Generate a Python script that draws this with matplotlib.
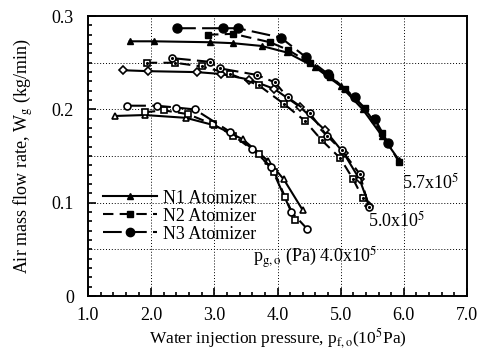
import matplotlib.pyplot as plt
import numpy as np
from matplotlib.lines import Line2D
from matplotlib.ticker import MultipleLocator

plt.rcParams['font.family'] = ['Liberation Serif', 'DejaVu Serif']
plt.rcParams['mathtext.fontset'] = 'stix'

# air pressure 4.0x10^5 Pa
x40_n1 = [1.43, 1.90, 2.55, 3.00, 3.45, 3.85, 4.10, 4.40]
y40_n1 = [0.193, 0.194, 0.191, 0.183, 0.168, 0.145, 0.125, 0.092]
x40_n2 = [1.90, 2.20, 2.58, 2.98, 3.30, 3.70, 3.95, 4.12, 4.28]
y40_n2 = [0.197, 0.199, 0.195, 0.184, 0.172, 0.152, 0.133, 0.106, 0.082]
x40_n3 = [1.62, 2.09, 2.40, 2.69, 3.25, 3.60, 3.90, 4.22, 4.47]
y40_n3 = [0.204, 0.204, 0.202, 0.200, 0.176, 0.158, 0.138, 0.090, 0.072]

# air pressure 5.0x10^5 Pa
x50_n1 = [1.55, 1.95, 2.72, 3.10, 3.55, 3.95, 4.35, 4.75, 5.05, 5.30, 5.45]
y50_n1 = [0.242, 0.241, 0.240, 0.238, 0.232, 0.222, 0.203, 0.178, 0.153, 0.125, 0.097]
x50_n2 = [1.93, 2.38, 2.80, 3.25, 3.70, 4.10, 4.43, 4.70, 4.99, 5.20, 5.35]
y50_n2 = [0.250, 0.250, 0.246, 0.238, 0.226, 0.206, 0.188, 0.167, 0.148, 0.125, 0.105]
x50_n3 = [2.33, 2.93, 3.09, 3.67, 3.96, 4.16, 4.51, 4.78, 5.02, 5.30, 5.45]
y50_n3 = [0.255, 0.251, 0.244, 0.237, 0.229, 0.213, 0.196, 0.172, 0.156, 0.131, 0.095]

# air pressure 5.7x10^5 Pa
x57_n1 = [1.66, 2.04, 2.93, 3.29, 3.75, 4.15, 4.60, 5.00, 5.35, 5.65, 5.92]
y57_n1 = [0.273, 0.273, 0.272, 0.271, 0.268, 0.261, 0.245, 0.225, 0.200, 0.172, 0.146]
x57_n2 = [2.90, 3.30, 3.88, 4.16, 4.51, 4.83, 5.07, 5.38, 5.65, 5.92]
y57_n2 = [0.280, 0.281, 0.272, 0.264, 0.250, 0.235, 0.222, 0.201, 0.175, 0.144]
x57_n3 = [2.41, 3.14, 3.37, 4.05, 4.45, 4.80, 5.22, 5.54, 5.75]
y57_n3 = [0.287, 0.287, 0.287, 0.277, 0.256, 0.238, 0.213, 0.190, 0.164]

ls_n1 = '-'
ls_n2 = (0, (5, 3))
ls_n3 = (0, (9, 3))
lw = 1.5
ms = 5

fig = plt.figure(figsize=(4.82, 3.5), dpi=100)
ax = fig.add_axes([0.1826, 0.154, 0.7863, 0.80])

# 4.0 -> open markers
ax.plot(x40_n1, y40_n1, ls=ls_n1, color='k', lw=lw, marker='^', ms=ms, mfc='white', mew=1.2)
ax.plot(x40_n2, y40_n2, ls=ls_n2, color='k', lw=lw, marker='s', ms=ms-1, mfc='white', mew=1.2)
ax.plot(x40_n3, y40_n3, ls=ls_n3, color='k', lw=lw, marker='o', ms=ms, mfc='white', mew=1.2)

# 5.0 -> open markers with centre dot
ax.plot(x50_n1, y50_n1, ls=ls_n1, color='k', lw=lw, marker='D', ms=ms-0.5, mfc='white', mew=1.2)
ax.plot(x50_n2, y50_n2, ls=ls_n2, color='k', lw=lw, marker='s', ms=ms-1, mfc='white', mew=1.2)
ax.plot(x50_n3, y50_n3, ls=ls_n3, color='k', lw=lw, marker='o', ms=ms, mfc='white', mew=1.2)
ax.plot(x50_n2, y50_n2, ls='none', marker='.', ms=2.5, color='k')
ax.plot(x50_n3, y50_n3, ls='none', marker='.', ms=2.5, color='k')

# 5.7 -> filled markers
ax.plot(x57_n1, y57_n1, ls=ls_n1, color='k', lw=lw, marker='^', ms=ms, mfc='k')
ax.plot(x57_n2, y57_n2, ls=ls_n2, color='k', lw=lw, marker='s', ms=ms-0.5, mfc='k')
ax.plot(x57_n3, y57_n3, ls=ls_n3, color='k', lw=lw, marker='o', ms=ms+1.5, mfc='k')

ax.set_xlim(1.0, 7.0)
ax.set_ylim(0, 0.3)
ax.xaxis.set_minor_locator(MultipleLocator(0.2))
ax.yaxis.set_minor_locator(MultipleLocator(0.01))
ax.set_xticks(np.arange(1.0, 7.01, 1.0))
ax.set_xticklabels(['1.0', '2.0', '3.0', '4.0', '5.0', '6.0', '7.0'])
ax.set_yticks([0, 0.1, 0.2, 0.3])
ax.set_yticklabels(['0', '0.1', '0.2', '0.3'])
ax.tick_params(which='both', direction='in', labelsize=13, width=1.2)
ax.tick_params(which='major', length=6)
ax.tick_params(which='minor', length=3)
ax.tick_params(axis='x', which='major', pad=8)
ax.tick_params(axis='y', which='major', pad=10)
for s in ax.spines.values():
    s.set_linewidth(1.4)

# dotted grid
for gx in [2, 3, 4, 5, 6]:
    ax.axvline(gx, color='k', ls=(0, (1, 2)), lw=0.7, zorder=0)
for gy in [0.05, 0.1, 0.15, 0.2, 0.25]:
    ax.axhline(gy, color='k', ls=(0, (1, 2)), lw=0.7, zorder=0)

ax.set_xlabel(r'Water injection pressure, p$_{\mathrm{f,o}}$(10$^{5}$Pa)', fontsize=12.5, labelpad=1)
ax.set_ylabel(r'Air mass flow rate, W$_{\mathrm{g}}$ (kg/min)', fontsize=13, labelpad=12)

ax.text(5.97, 0.121, r'5.7x10$^{5}$', fontsize=13, va='center', ha='left')
ax.text(5.43, 0.081, r'5.0x10$^{5}$', fontsize=13, va='center', ha='left')
ax.text(3.61, 0.042, r'p$_{\mathrm{g,o}}$ (Pa) 4.0x10$^{5}$', fontsize=13, va='center', ha='left')

handles = [
    Line2D([], [], color='k', ls=ls_n1, lw=lw, marker='^', ms=5, mfc='k'),
    Line2D([], [], color='k', ls=ls_n2, lw=lw, marker='s', ms=4.5, mfc='k'),
    Line2D([], [], color='k', ls=ls_n3, lw=lw, marker='o', ms=6, mfc='k'),
]
ax.legend(handles, ['N1 Atomizer', 'N2 Atomizer', 'N3 Atomizer'], loc='upper left',
          bbox_to_anchor=(0.04, 0.38), frameon=False, fontsize=13, handlelength=3.0,
          handletextpad=0.3, labelspacing=0.05, borderpad=0, borderaxespad=0)

plt.savefig('out.png', dpi=100)
